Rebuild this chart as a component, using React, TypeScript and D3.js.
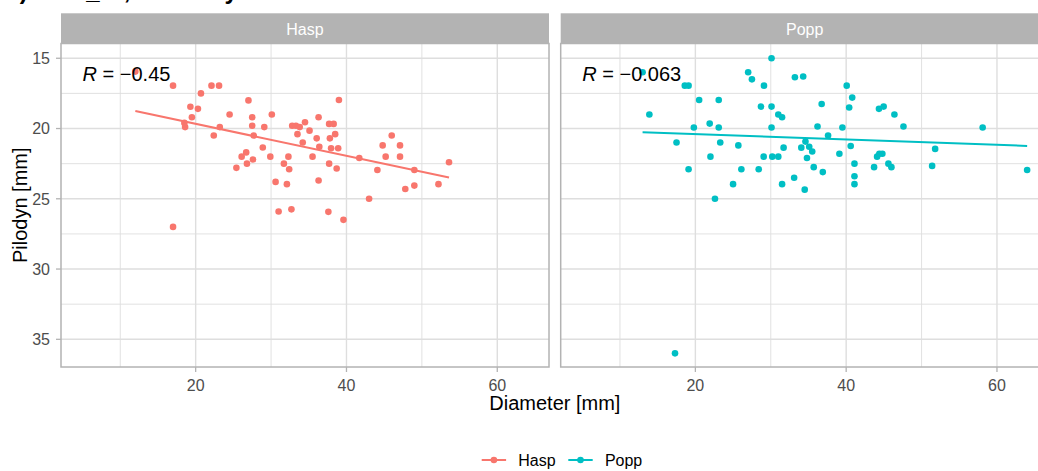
import React, { useEffect } from 'react'
import * as d3 from 'd3'

// facets / groups
const species = ['Hasp', 'Popp']
const colors = ['#F8766D', '#00BFC4']
const rLabels = ['\u22120.45', '\u22120.063']
// regression line: pilodyn = a + b * diameter
const fitIntercept = [17.39, 20.01]
const fitSlope = [0.1138, 0.0192]

const xTicks = [20, 40, 60]
const xMinor = [10, 30, 50]
const yTicks = [15, 20, 25, 30, 35]
const yMinor = [17.5, 22.5, 27.5, 32.5]

const haspDiameter = [
  12.0, 17.0, 22.1, 23.1, 20.7, 27.0, 19.3, 20.3, 24.5, 27.5, 30.1, 19.5, 18.5, 18.6,
  23.2, 22.4, 27.5, 29.1, 27.7, 32.8, 33.3, 28.9, 26.7, 26.1, 27.6, 29.9, 32.3, 25.4,
  26.8, 31.7, 32.4, 17.0, 30.6, 31.0, 32.7, 32.1, 33.5, 39.0, 36.3, 34.5, 33.8, 35.1,
  37.7, 38.3, 38.5, 36.05, 37.8, 34.2, 36.4, 37.96, 38.9, 35.5, 37.7, 38.7, 36.3, 37.6,
  39.6, 41.7, 43.0, 44.1, 44.8, 46.0, 47.1, 45.2, 47.1, 47.8, 49.0, 49.0, 52.2, 53.6,
]
const haspPilodyn = [
  15.95, 16.95, 16.95, 16.95, 17.5, 18.0, 18.45, 18.6, 19.0, 19.2, 19.0, 19.2, 19.6, 19.9,
  19.9, 20.5, 19.8, 19.9, 20.5, 19.8, 19.8, 21.35, 21.7, 22.0, 22.2, 22.0, 22.0, 22.8,
  22.5, 22.5, 22.9, 27.0, 23.8, 25.9, 25.75, 23.96, 20.4, 17.97, 19.2, 19.55, 19.9, 20.15,
  19.67, 19.67, 20.4, 20.7, 20.7, 21.0, 21.3, 21.4, 21.4, 22.0, 22.5, 22.85, 23.7, 25.93,
  26.5, 22.1, 25.0, 22.95, 21.2, 20.5, 21.2, 22.0, 22.0, 24.3, 24.06, 22.95, 23.96, 22.4,
]

const poppDiameter = [
  30.1, 13.0, 27.0, 27.5, 29.1, 33.2, 34.3, 18.6, 19.1, 20.5, 23.1, 13.9, 28.7, 30.1,
  31.0, 31.5, 36.75, 19.8, 21.9, 23.1, 30.1, 36.2, 37.6, 17.5, 23.3, 25.7, 31.7, 34.05,
  34.6, 35.1, 35.5, 22.0, 29.06, 30.2, 31.0, 34.8, 39.1, 19.1, 26.1, 28.4, 35.7, 36.9,
  25.0, 31.5, 33.1, 34.5, 22.6, 39.5, 40.07, 40.8, 40.4, 40.6, 41.1, 41.1, 41.1, 44.35,
  44.97, 46.4, 47.6, 44.1, 44.4, 44.8, 43.7, 45.6, 46.0, 51.4, 51.8, 58.1, 64.0, 17.3,
]
const poppPilodyn = [
  15.0, 16.0, 16.0, 16.5, 16.95, 16.35, 16.3, 16.95, 16.95, 17.97, 17.97, 19.0, 18.44, 18.44,
  19.0, 19.2, 18.25, 19.93, 19.65, 19.93, 19.93, 19.86, 20.5, 21.0, 21.0, 21.2, 21.36, 21.36,
  20.93, 21.3, 21.64, 22.0, 22.0, 22.0, 22.0, 22.1, 21.8, 22.9, 22.9, 22.9, 22.75, 23.1,
  23.96, 23.96, 23.5, 24.35, 25.0, 19.93, 16.95, 17.8, 18.5, 21.24, 22.5, 23.4, 23.96, 18.6,
  18.44, 19.0, 19.86, 22.0, 21.8, 21.8, 22.75, 22.5, 22.75, 22.66, 21.45, 19.93, 22.95, 36.0,
]

const diameters = [haspDiameter, poppDiameter]
const pilodyns = [haspPilodyn, poppPilodyn]

const width = 1038
const height = 471
const panelLeft = [61, 560.7]
const panelW = 488
const panelTop = 43.5
const panelBottom = 367
const stripTop = 13.3
const font = '"Liberation Sans", Arial, sans-serif'
const grid = '#DEDEDE'
const frame = '#B3B3B3'
const axisText = '#4D4D4D'

const App = () => {
  useEffect(() => {
    document.body.style.margin = '0'
    document.body.style.overflow = 'hidden'
  }, [])

  const y = d3.scaleLinear().domain([13.95, 36.97]).range([panelTop, panelBottom])

  return (
    <svg width={width} height={height} style={{ display: 'block', background: '#fff' }} fontFamily={font}>
      {/* title, mostly cut off at the top of the picture */}
      <text x={5} y={-1} fontSize={24} fontWeight="bold" fill="#000">b) OBS_ID, Wood by site</text>

      {species.map((sp, i) => {
        const x = d3.scaleLinear().domain([2.14, 66.86]).range([panelLeft[i], panelLeft[i] + panelW])
        const xs = diameters[i]
        const ys = pilodyns[i]
        const [x0, x1] = d3.extent(xs) as [number, number]
        const fit = d3.line<number>().x(d => x(d)).y(d => y(fitIntercept[i] + fitSlope[i] * d))
        return (
          <g key={sp}>
            {/* strip */}
            <rect x={panelLeft[i]} y={stripTop} width={panelW} height={panelTop - stripTop} fill={frame} />
            <text x={panelLeft[i] + panelW / 2} y={35} textAnchor="middle" fontSize={16} fill="#fff">{sp}</text>

            {/* grid */}
            {xMinor.map(t => (
              <line key={'xm' + t} x1={x(t)} x2={x(t)} y1={panelTop} y2={panelBottom} stroke={grid} strokeWidth={0.9} />
            ))}
            {yMinor.map(t => (
              <line key={'ym' + t} x1={panelLeft[i]} x2={panelLeft[i] + panelW} y1={y(t)} y2={y(t)} stroke={grid} strokeWidth={0.9} />
            ))}
            {xTicks.map(t => (
              <line key={'x' + t} x1={x(t)} x2={x(t)} y1={panelTop} y2={panelBottom} stroke={grid} strokeWidth={1.4} />
            ))}
            {yTicks.map(t => (
              <line key={'y' + t} x1={panelLeft[i]} x2={panelLeft[i] + panelW} y1={y(t)} y2={y(t)} stroke={grid} strokeWidth={1.4} />
            ))}

            {/* points */}
            {xs.map((d, j) => (
              <circle key={j} cx={x(d)} cy={y(ys[j])} r={3.3} fill={colors[i]} />
            ))}

            {/* regression line */}
            <path d={fit([x0, x1]) || ''} fill="none" stroke={colors[i]} strokeWidth={2} />

            {/* correlation label */}
            <text x={x(5)} y={y(16.6)} fontSize={20} fill="#000">
              <tspan fontStyle="italic">R</tspan>
              <tspan>{' = ' + rLabels[i]}</tspan>
            </text>

            {/* border */}
            <rect x={panelLeft[i]} y={panelTop} width={panelW} height={panelBottom - panelTop} fill="none" stroke={frame} strokeWidth={1.5} />

            {/* x axis */}
            {xTicks.map(t => (
              <g key={'xt' + t}>
                <line x1={x(t)} x2={x(t)} y1={panelBottom} y2={panelBottom + 5} stroke={frame} strokeWidth={1.3} />
                <text x={x(t)} y={391} textAnchor="middle" fontSize={16} fill={axisText}>{t}</text>
              </g>
            ))}
          </g>
        )
      })}

      {/* y axis (left panel only) */}
      {yTicks.map(t => (
        <g key={'yt' + t}>
          <line x1={panelLeft[0] - 5} x2={panelLeft[0]} y1={y(t)} y2={y(t)} stroke={frame} strokeWidth={1.3} />
          <text x={50} y={y(t)} dy="0.36em" textAnchor="end" fontSize={16} fill={axisText}>{t}</text>
        </g>
      ))}

      {/* axis titles */}
      <text transform={`translate(26.5,${(panelTop + panelBottom) / 2}) rotate(-90)`} textAnchor="middle" fontSize={20} fill="#000">Pilodyn [mm]</text>
      <text x={(panelLeft[0] + panelLeft[1] + panelW) / 2} y={410} textAnchor="middle" fontSize={20} fill="#000">Diameter [mm]</text>

      {/* legend */}
      {species.map((sp, i) => {
        const kx = [481.7, 568.3][i]
        return (
          <g key={'lg' + sp}>
            <line x1={kx} x2={kx + 24.4} y1={460} y2={460} stroke={colors[i]} strokeWidth={2} />
            <circle cx={kx + 12.2} cy={460} r={3.3} fill={colors[i]} />
            <text x={kx + 36.6} y={466} fontSize={16} fill="#000">{sp}</text>
          </g>
        )
      })}
    </svg>
  )
}

export default App
